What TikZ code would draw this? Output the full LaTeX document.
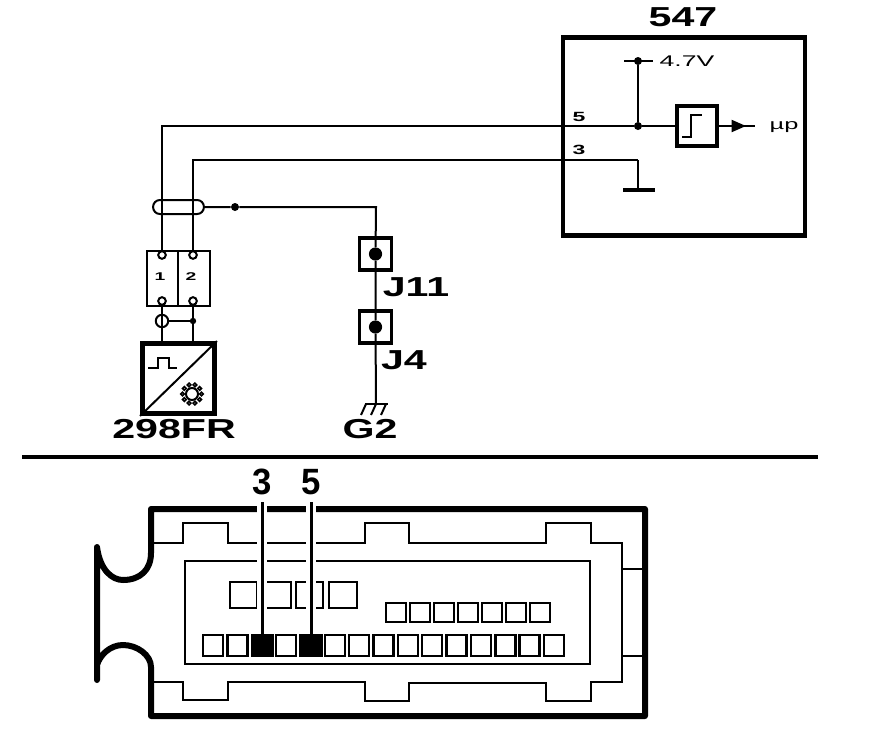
\documentclass[tikz,border=0pt]{standalone}
\usepackage{fontspec}
\setmainfont{Liberation Sans}
\newfontfamily\widefont[FakeStretch=1.72]{Liberation Sans}
\newfontfamily\midfont[FakeStretch=1.5]{Liberation Sans}
\newfontfamily\tallfont[FakeStretch=0.95]{Liberation Sans}
\usetikzlibrary{arrows.meta, positioning}
\tikzset{
    wire/.style={line width=0.05cm},
    fine/.style={line width=0.06cm},
    heavy/.style={line width=0.12cm},
    halo/.style={line width=0.075cm, preaction={draw=white, line width=0.23cm}},
    spot/.style={circle, fill=black, inner sep=0pt, minimum size=0.14cm},
    pin/.style={circle, draw, fill=white, line width=0.05cm, inner sep=0pt, minimum size=0.19cm},
    plug/.style={draw, line width=0.08cm, inner sep=0pt, minimum size=0.8cm},
    tag/.style={inner sep=0pt, font=\bfseries\midfont\fontsize{19.5}{20}\selectfont},
    small/.style={inner sep=0pt, font=\widefont\fontsize{11}{11}\selectfont},
}
\begin{document}
\begin{tikzpicture}[x=0.025cm, y=-0.025cm]
    \useasboundingbox (0,0) rectangle (880,738);

    % calculateur
    \node[draw, heavy, minimum width=6.05cm, minimum height=4.93cm, inner sep=0pt] (ecu) at (684,136.5) {};
    \node[tag] (ecuname) at (683,17) {547};
    \node[draw, line width=0.085cm, minimum size=1cm, inner sep=0pt] (trig) at (697,126) {};
    \node[spot, minimum size=0.2cm] (node5) at (638,126) {};
    \node[spot, minimum size=0.2cm] (node47) at (638,61) {};
    \coordinate (gnd) at (638,190);
    \node[small] (v47) at (687,61) {4.7V};
    \node[small, font=\widefont\fontsize{10.5}{11}\selectfont] (up) at (784,127) {µp};
    \node[small, font=\bfseries\widefont\fontsize{9.5}{10}\selectfont] (lab5) at (579,117) {5};
    \node[small, font=\bfseries\widefont\fontsize{9.5}{10}\selectfont] (lab3) at (579,150) {3};
    \coordinate (out) at (755,126);
    \draw[fine] (624,61) -- (653,61);
    \draw[fine] (node47) -- (node5);
    \draw[wire] (node5) -- (trig);
    \draw[wire] (trig) -- (out);
    \draw[wire, -{Triangle[length=0.36cm, width=0.3cm]}] (trig) -- (746,126);
    \draw[wire] (682,137) -- (691,137) -- (691,115) -- (702,115);
    \draw[line width=0.1cm] (623,190) -- (655,190);
    \draw[wire] (638,160) -- (gnd);

    % connecteur et capteur
    \node[draw, fine, minimum width=0.775cm, minimum height=1.375cm, inner sep=0pt] (c1) at (162.5,278.5) {};
    \node[draw, fine, minimum width=0.8cm, minimum height=1.375cm, inner sep=0pt] (c2) at (194,278.5) {};
    \node[font=\bfseries\widefont\fontsize{8}{8}\selectfont, inner sep=0pt] at (160,277) {1};
    \node[font=\bfseries\widefont\fontsize{8}{8}\selectfont, inner sep=0pt] at (191,277) {2};
    \node[pin] (p1) at (162,255) {};
    \node[pin] (p2) at (193,255) {};
    \node[pin] (p3) at (162,301) {};
    \node[pin] (p4) at (193,301) {};
    \node[draw, heavy, minimum width=1.8cm, minimum height=1.75cm, inner sep=0pt] (sensor) at (178.5,378.5) {};
    \node[tag] (sname) at (174,429) {298FR};
    \node[pin, minimum size=0.31cm, fill=none] (shd) at (162,321) {};
    \node[spot, minimum size=0.16cm] (sj) at (193,321) {};
    \draw[wire] (p1) -- (162,126) -- (node5);
    \draw[wire] (p2) -- (193,160) -- (638,160);
    \draw[wire] (p3) -- (162,342);
    \draw[wire] (p4) -- (193,342);
    \draw[wire] (shd) -- (sj);
    \draw[wire] (sensor.south west) -- (sensor.north east);
    \draw[fine] (148,368) -- (158,368) -- (158,358) -- (169,358) -- (169,368) -- (177,368);
    \draw[wire] (192,394) circle (6);
    \foreach \ang in {0,36,...,324}
        \draw[line width=0.04cm] (192,394) ++(\ang:9.5) circle (1.8);

    % blindage
    \node[draw, wire, rounded corners=0.17cm, minimum width=1.27cm, minimum height=0.35cm, inner sep=0pt] (shield) at (178.5,207) {};
    \node[spot, minimum size=0.2cm] (sdot) at (235,207) {};
    \node[draw, plug] (j11) at (375.5,254) {};
    \node[draw, plug] (j4) at (375.5,327) {};
    \node[spot, minimum size=0.33cm] (j11dot) at (j11) {};
    \node[spot, minimum size=0.33cm] (j4dot) at (j4) {};
    \node[tag] (j11name) at (416,287) {J11};
    \node[tag] (j4name) at (404,360) {J4};
    \coordinate (earth) at (376,404);
    \node[tag] (g2name) at (370,429) {G2};
    \draw[wire] (shield) -- (sdot) -- (376,207) -- (j11dot) -- (j4dot) -- (earth);
    \draw[fine] (365,404) -- (388,404);
    \foreach \gx in {366,376,386}
        \draw[wire] (\gx,404) -- ++(-5,11);

    % separation
    \draw[line width=0.085cm] (22,457) -- (818,457);

    % boitier
    \draw[line width=0.15cm, line join=round, line cap=round] (97,680) -- (97,547)
        .. controls (100,570) and (112,580) .. (123,580) .. controls (140,580) and (151,570) .. (151,553)
        -- (151,509) -- (645,509) -- (645,716) -- (151,716) -- (151,667)
        .. controls (151,655) and (137,645) .. (123,645) .. controls (110,645) and (100,655) .. (97,665);
    \draw[fine] (151,543) -- (183,543) -- (183,523) -- (228,523) -- (228,543) -- (365,543) -- (365,523) -- (409,523)
        -- (409,543) -- (546,543) -- (546,523) -- (591,523) -- (591,543) -- (622,543) -- (622,682) -- (591,682)
        -- (591,701) -- (546,701) -- (546,683) -- (409,683) -- (409,701) -- (365,701) -- (365,682) -- (228,682)
        -- (228,700) -- (183,700) -- (183,682) -- (151,682);
    \draw[fine] (622,569) -- (645,569);
    \draw[fine] (622,656) -- (645,656);
    \draw[fine] (185,561) rectangle (590,664);

    % broches
    \foreach \bx/\bw in {230/27,263/28,296/27,329/28}
        \draw[fine] (\bx,582) rectangle ++(\bw,26);
    \foreach \n in {0,...,6}
        \draw[fine] (386+24*\n,603) rectangle ++(20,19);
    \foreach \n in {0,...,14}
        \draw[fine] (203+24.36*\n,635) rectangle ++(20,21);
    \coordinate (b3) at (262,634);
    \coordinate (b5) at (311,634);
    \fill (251,634) rectangle ++(23,23);
    \fill (300,634) rectangle ++(23,23);
    \node[inner sep=0pt, font=\bfseries\tallfont\fontsize{26}{26}\selectfont] (t3) at (262,482) {3};
    \node[inner sep=0pt, font=\bfseries\tallfont\fontsize{26}{26}\selectfont] (t5) at (311,482) {5};
    \draw[halo] (262,502) -- (b3);
    \draw[halo] (311,502) -- (b5);
\end{tikzpicture}
\end{document}
